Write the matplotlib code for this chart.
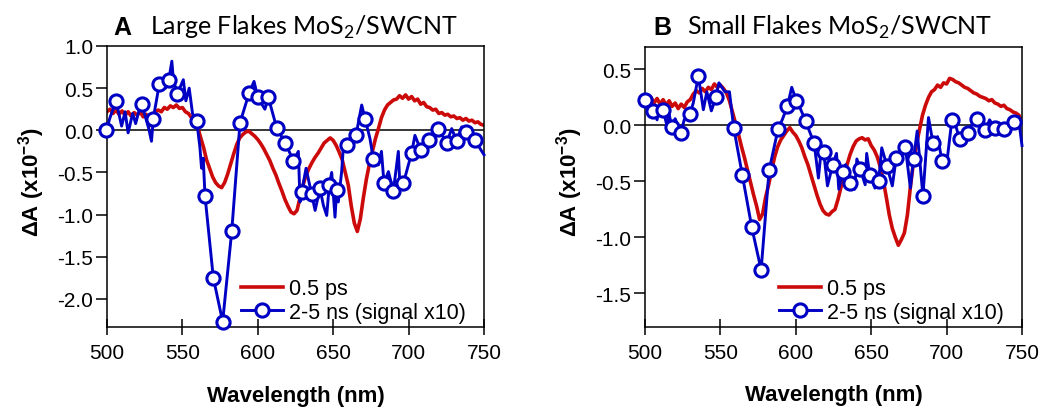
import numpy as np
import matplotlib
matplotlib.use("Agg")
import matplotlib.pyplot as plt

plt.rcParams['font.family'] = ['Liberation Sans', 'DejaVu Sans']
plt.rcParams['axes.unicode_minus'] = False
plt.rcParams['mathtext.fontset'] = 'custom'
plt.rcParams['mathtext.rm'] = 'Liberation Sans'
plt.rcParams['mathtext.bf'] = 'Liberation Sans:bold'

RED = '#cc0a0a'
BLUE = '#0000c4'

# 0.5 ps spectra, sampled every 2 nm from 500 to 750 nm
red_wl = np.arange(500, 751, 2)
red_a = [0.22, 0.25, 0.20, 0.24, 0.19, 0.23, 0.18, 0.22, 0.17, 0.21,
         0.18, 0.22, 0.16, 0.19, 0.05, 0.18, 0.22, 0.24, 0.22, 0.27,
         0.25, 0.29, 0.27, 0.30, 0.26, 0.27, 0.22, 0.20, 0.15, 0.10,
         0.05, -0.08, -0.20, -0.35, -0.45, -0.55, -0.62, -0.66, -0.68, -0.62,
         -0.52, -0.40, -0.28, -0.17, -0.09, -0.05, -0.02, -0.01, -0.04, -0.07,
         -0.11, -0.16, -0.22, -0.29, -0.36, -0.45, -0.53, -0.63, -0.72, -0.82,
         -0.90, -0.97, -0.99, -0.95, -0.80, -0.65, -0.53, -0.45, -0.38, -0.32,
         -0.27, -0.21, -0.15, -0.12, -0.09, -0.12, -0.18, -0.26, -0.35, -0.50,
         -0.65, -0.90, -1.10, -1.20, -1.05, -0.80, -0.58, -0.40, -0.25, -0.10,
         0.02, 0.15, 0.24, 0.30, 0.33, 0.36, 0.37, 0.41, 0.38, 0.42,
         0.37, 0.40, 0.35, 0.37, 0.31, 0.33, 0.28, 0.27, 0.24, 0.25,
         0.20, 0.21, 0.18, 0.19, 0.16, 0.17, 0.14, 0.15, 0.12, 0.14,
         0.11, 0.12, 0.09, 0.10, 0.07, 0.06]
red_b = [0.26, 0.21, 0.25, 0.20, 0.24, 0.19, 0.23, 0.18, 0.22, 0.17,
         0.20, 0.15, 0.19, 0.16, 0.21, 0.23, 0.28, 0.31, 0.29, 0.33,
         0.30, 0.34, 0.32, 0.37, 0.34, 0.36, 0.33, 0.29, 0.22, 0.12,
         0.02, -0.08, -0.19, -0.29, -0.40, -0.51, -0.62, -0.72, -0.84, -0.79,
         -0.64, -0.53, -0.40, -0.28, -0.19, -0.13, -0.09, -0.05, -0.02, -0.06,
         -0.09, -0.14, -0.20, -0.28, -0.35, -0.44, -0.53, -0.62, -0.70, -0.76,
         -0.79, -0.80, -0.77, -0.75, -0.66, -0.55, -0.44, -0.35, -0.26, -0.19,
         -0.14, -0.12, -0.11, -0.13, -0.12, -0.18, -0.22, -0.28, -0.37, -0.49,
         -0.64, -0.80, -0.92, -1.00, -1.07, -1.02, -0.96, -0.80, -0.55, -0.33,
         -0.17, -0.04, 0.09, 0.18, 0.25, 0.30, 0.32, 0.36, 0.34, 0.38,
         0.37, 0.42, 0.41, 0.39, 0.38, 0.36, 0.34, 0.33, 0.31, 0.29,
         0.28, 0.26, 0.25, 0.24, 0.22, 0.23, 0.20, 0.19, 0.17, 0.18,
         0.15, 0.14, 0.12, 0.11, 0.09, 0.02]

# 2-5 ns spectra (x10): points carrying a circle marker
blue_a_mk_wl = [499.5, 506, 523, 530.7, 534.7, 541, 546.6, 559.5, 565, 570.5,
                576.7, 582.7, 588.2, 594.2, 600, 607, 612.5, 618.2, 623.6, 629.1,
                635.7, 641.2, 647.4, 652.3, 659, 665.1, 671.1, 676.6, 683.7, 689.9,
                696.5, 702, 708, 713.7, 719.7, 725.2, 731.9, 738, 744]
blue_a_mk = [0.00, 0.35, 0.31, 0.14, 0.55, 0.60, 0.43, 0.11, -0.78, -1.75,
             -2.27, -1.20, 0.09, 0.44, 0.39, 0.39, 0.03, -0.15, -0.36, -0.73,
             -0.76, -0.69, -0.65, -0.71, -0.18, -0.06, 0.14, -0.34, -0.63, -0.72,
             -0.63, -0.27, -0.23, -0.12, 0.02, -0.15, -0.13, -0.02, -0.12]
# noisy points of the same trace without a marker
blue_a_sp_wl = [502, 509.7, 512, 514, 517, 519, 521, 527.7, 529.5, 538.8,
                543, 544, 550.6, 552.3, 554.5, 556.7, 561.6, 562.7, 563.8, 597.5,
                604.7, 626.9, 628, 632, 638, 643.5, 645.7, 649, 651.2, 653.4,
                655.6, 656.7, 668.9, 674.4, 680, 682, 686.6, 693.2, 694.3, 704.2,
                716.4, 728.6, 735.2, 741, 750]
blue_a_sp = [0.15, 0.05, 0.22, -0.03, 0.20, 0.08, 0.22, 0.02, -0.13, 0.50,
             0.82, 0.60, 0.60, 0.35, 0.50, 0.20, -0.20, -0.45, -0.33, 0.58,
             0.25, -0.25, -0.85, -0.45, -0.95, -0.89, -1.01, -0.50, -1.03, -0.85,
             -0.49, -0.21, 0.30, -0.10, -0.41, -0.25, -0.49, -0.25, -0.69, -0.06,
             -0.06, 0.02, 0.04, 0.00, -0.29]

blue_b_mk_wl = [500, 505.5, 512, 517.7, 523.7, 529.8, 535.4, 547, 558.8, 564.5,
                570.8, 577, 582.3, 588.3, 594.4, 600.4, 606.5, 612.2, 618.5, 624.5,
                631, 636, 642.7, 649, 654.9, 660.4, 666.6, 672.6, 678.1, 684.3,
                691, 697, 703.5, 708.6, 713.9, 720.1, 725.7, 731.9, 737.8, 744.5]
blue_b_mk = [0.23, 0.13, 0.14, -0.01, -0.07, 0.10, 0.44, 0.25, -0.02, -0.44,
             -0.91, -1.29, -0.40, -0.03, 0.17, 0.22, 0.04, -0.16, -0.24, -0.35,
             -0.42, -0.51, -0.39, -0.44, -0.50, -0.36, -0.29, -0.19, -0.30, -0.63,
             -0.16, -0.32, 0.05, -0.12, -0.07, 0.06, -0.04, -0.02, -0.03, 0.03]
blue_b_sp_wl = [502.5, 508, 510, 514.5, 516, 520, 526, 532, 538.7, 541,
                544, 549, 553, 556, 591, 597.3, 603, 609, 615, 617,
                621, 627, 628.5, 633, 639, 640.5, 646, 647, 652.5, 657,
                664, 669, 676, 680.5, 688, 694, 700, 706, 711, 716.5,
                723, 728.5, 735, 741, 747.5, 750]
blue_b_sp = [0.20, 0.05, 0.18, 0.00, 0.10, 0.06, 0.05, 0.20, 0.14, 0.30,
             0.13, 0.38, 0.30, 0.30, 0.05, 0.34, 0.15, -0.05, -0.47, -0.20,
             -0.54, -0.25, -0.57, -0.35, -0.57, -0.30, -0.53, -0.25, -0.56, -0.20,
             -0.54, -0.25, -0.56, -0.05, 0.07, -0.10, -0.35, 0.00, -0.05, 0.00,
             0.02, 0.05, 0.02, -0.02, 0.08, -0.18]


def merge(mk_wl, mk_val, sp_wl, sp_val):
    wl = np.concatenate([mk_wl, sp_wl])
    val = np.concatenate([mk_val, sp_val])
    is_mk = np.r_[np.ones(len(mk_wl), bool), np.zeros(len(sp_wl), bool)]
    order = np.argsort(wl, kind='stable')
    return wl[order], val[order], list(np.flatnonzero(is_mk[order]))


def draw(ax, red, blue, ylim, yticks):
    ax.axhline(0, color='black', lw=1.1, zorder=1)
    ax.plot(red_wl, red, color=RED, lw=2.6, label='0.5 ps', zorder=2)
    wl, val, every = merge(*blue)
    ax.plot(wl, val, color=BLUE, lw=2.1, marker='o', ms=9.5, mfc='white',
            mec=BLUE, mew=2.2, markevery=every, clip_on=False,
            label='2-5 ns (signal x10)', zorder=3)
    ax.set_xlim(500, 750)
    ax.set_ylim(*ylim)
    ax.set_xticks([500, 550, 600, 650, 700, 750])
    ax.set_yticks(yticks)
    ax.yaxis.set_major_formatter(matplotlib.ticker.FormatStrFormatter('%.1f'))
    for s in ax.spines.values():
        s.set_linewidth(1.1)
    ax.tick_params(axis='x', direction='inout', length=11, width=1.1,
                   labelsize=15, pad=6)
    ax.tick_params(axis='y', direction='out', length=8, width=1.1,
                   labelsize=15, pad=2)
    ax.set_xlabel('Wavelength (nm)', fontsize=16, fontweight='bold')
    ax.xaxis.set_label_coords(0.5, -0.205)
    ax.set_ylabel(r'ΔA (x10$^{\mathbf{-3}}$)', fontsize=16, fontweight='bold')
    ax.yaxis.set_label_coords(-0.158, 0.52)
    ax.legend(loc='lower left', bbox_to_anchor=(0.345, 0.0), frameon=False,
              fontsize=15.5, borderpad=0, borderaxespad=0.2, handlelength=1.95,
              handletextpad=0.25, labelspacing=0.12)


W, H = 1043, 414
fig = plt.figure(figsize=(W / 100, H / 100), dpi=100)
ax_a = fig.add_axes([107 / W, 86 / H, 377 / W, 281 / H])
ax_b = fig.add_axes([645 / W, 86 / H, 377 / W, 280 / H])

draw(ax_a, red_a, (blue_a_mk_wl, blue_a_mk, blue_a_sp_wl, blue_a_sp),
     (-2.333, 1.0), np.arange(-2.0, 1.01, 0.5))
draw(ax_b, red_b, (blue_b_mk_wl, blue_b_mk, blue_b_sp_wl, blue_b_sp),
     (-1.80, 0.70), np.arange(-1.5, 0.51, 0.5))

for letter, lx, name, nx in [('A', 113, 'Large Flakes', 150),
                             ('B', 653, 'Small Flakes', 687)]:
    fig.text(lx / W, 1 - 35 / H, letter, fontsize=18, fontweight='bold',
             va='baseline')
    fig.text(nx / W, 1 - 35 / H, name + r' MoS$_\mathregular{2}$/SWCNT',
             fontsize=18, family=['Lato', 'DejaVu Sans'], va='baseline')

fig.savefig('out.png', dpi=100)
